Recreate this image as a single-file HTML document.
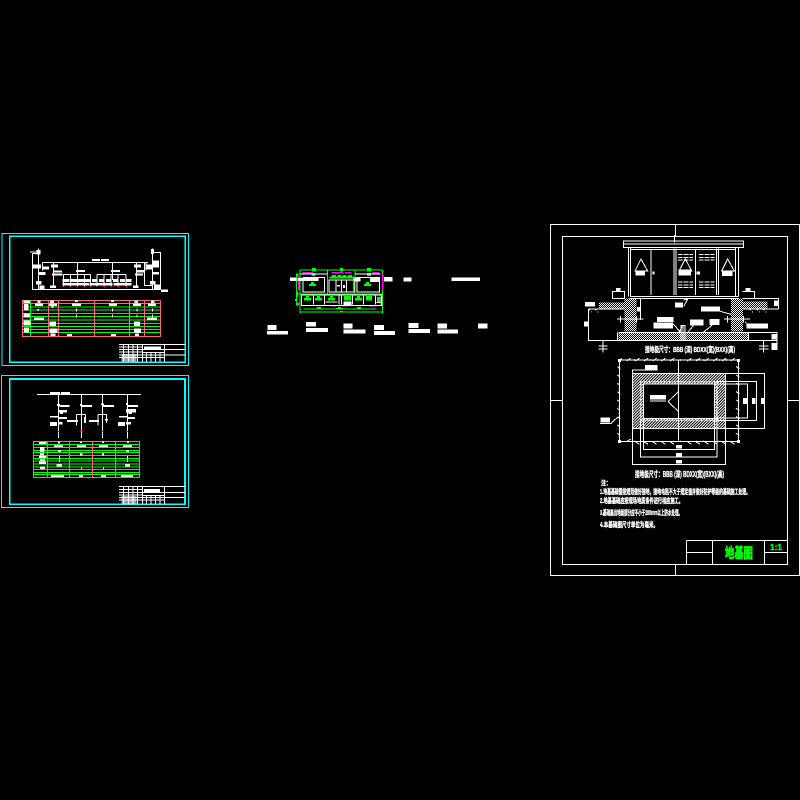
<!DOCTYPE html>
<html lang="zh">
<head>
<meta charset="utf-8">
<title>地基图</title>
<style>
html,body{margin:0;padding:0;background:#000;width:800px;height:800px;overflow:hidden}
svg{display:block;shape-rendering:crispEdges}
text{font-family:"Liberation Sans","Noto Sans CJK SC",sans-serif;font-weight:bold;fill:#fff;stroke:#fff;stroke-width:.35;shape-rendering:auto}
</style>
</head>
<body>
<svg xmlns="http://www.w3.org/2000/svg" width="800" height="800" viewBox="0 0 800 800">
<defs>
<pattern id="h" width="6" height="6" patternUnits="userSpaceOnUse" patternTransform="rotate(45)">
<rect width="3" height="6" fill="#fff"/>
</pattern>
<pattern id="d" width="6" height="6" patternUnits="userSpaceOnUse">
<rect width="3" height="3" fill="#fff"/>
<rect x="3" y="3" width="3" height="3" fill="#fff"/>
</pattern>
</defs>
<rect width="800" height="800" fill="#000"/>

<!-- Sheet 1 -->
<g transform="translate(0,230) scale(.33333)" fill="none" stroke="#fff" stroke-width="3">
<rect x="6" y="11" width="560" height="395" stroke="#00ffff" stroke-width="3"/>
<path d="M29 19H556V397H29Z" stroke="#00ffff" stroke-width="5"/>
<path d="M97 70V178H482V68H455M97 70H118M90 66H122M115 55V178M458 55V178"/>
<path d="M127 97H444M127 97V122M438 97V122M433 97V166H458M232 97V150M337 97V150M160 97V170M410 97V170"/>
<path d="M190 133H272M291 133H378M190 133V170M211 133V170M232 133V170M253 133V170M272 133V170M291 133V170M312 133V170M333 133V170M354 133V170M378 133V170"/>
<g fill="#fff" stroke="none">
<rect x="276" y="87" width="24" height="6"/><rect x="303" y="87" width="24" height="6"/>
<rect x="110" y="60" width="12" height="14"/><rect x="453" y="57" width="9" height="15"/>
<rect x="99" y="104" width="24" height="11"/><rect x="127" y="110" width="20" height="8"/>
<rect x="153" y="103" width="21" height="9"/><rect x="160" y="121" width="26" height="6"/>
<rect x="156" y="130" width="32" height="7"/><rect x="115" y="126" width="21" height="9"/>
<rect x="108" y="153" width="16" height="11"/><rect x="118" y="166" width="16" height="12"/>
<rect x="150" y="166" width="18" height="8"/><rect x="228" y="120" width="27" height="6"/>
<rect x="333" y="120" width="27" height="6"/><rect x="402" y="103" width="21" height="10"/>
<rect x="410" y="120" width="24" height="7"/><rect x="405" y="130" width="24" height="7"/>
<rect x="399" y="166" width="17" height="8"/><rect x="438" y="104" width="18" height="15"/>
<rect x="458" y="92" width="19" height="20"/><rect x="456" y="126" width="21" height="8"/>
<rect x="450" y="153" width="16" height="11"/><rect x="462" y="164" width="21" height="14"/>
<rect x="483" y="178" width="21" height="8"/>
<rect x="187" y="147" width="21" height="9"/><rect x="212" y="147" width="20" height="9"/>
<rect x="234" y="147" width="18" height="9"/><rect x="255" y="147" width="17" height="9"/>
<rect x="276" y="147" width="17" height="9"/><rect x="297" y="147" width="15" height="9"/>
<rect x="318" y="147" width="15" height="9"/><rect x="339" y="147" width="15" height="9"/>
<rect x="360" y="147" width="15" height="9"/><rect x="378" y="147" width="17" height="9"/>
<rect x="187" y="159" width="81" height="7"/><rect x="271" y="159" width="66" height="7"/>
<rect x="340" y="159" width="54" height="7"/>
</g>
<path d="M187 170h4M208 170h5M229 170h5M250 170h5M271 170h4M312 170h4M333 170h4M354 170h4M376 170h5" stroke="#ff0000" stroke-width="5"/>
<path d="M67 212H482M67 221H482M67 231H482M67 240H482M67 250H482M67 260H482M67 270H482M67 280H482M67 289H482M67 298H482M67 308H482M67 319H482" stroke="#00ff00"/>
<path d="M67 211H482V320H67Z" stroke="#ff6680"/>
<path d="M91 211V320" stroke="#00ff00"/>
<path d="M145 211V320M175 211V320M283 211V320M388 211V320M433 211V320" stroke="#ff6680"/>
<g fill="#fff" stroke="none">
<rect x="70" y="212" width="20" height="7"/><rect x="72" y="222" width="14" height="20"/>
<rect x="70" y="250" width="20" height="13"/><rect x="70" y="272" width="22" height="14"/>
<rect x="72" y="292" width="15" height="16"/><rect x="112" y="211" width="10" height="8"/>
<rect x="105" y="221" width="24" height="7"/><rect x="113" y="237" width="4" height="6"/>
<rect x="102" y="263" width="30" height="7"/><rect x="150" y="211" width="12" height="8"/>
<rect x="147" y="221" width="24" height="7"/><rect x="155" y="228" width="6" height="6"/>
<rect x="148" y="274" width="20" height="14"/><rect x="148" y="296" width="24" height="13"/>
<rect x="152" y="310" width="14" height="8"/><rect x="225" y="210" width="9" height="6"/>
<rect x="216" y="221" width="27" height="7"/><rect x="228" y="236" width="3" height="8"/>
<rect x="228" y="254" width="3" height="8"/><rect x="201" y="312" width="15" height="6"/>
<rect x="333" y="210" width="9" height="6"/><rect x="327" y="221" width="24" height="7"/>
<rect x="336" y="236" width="3" height="8"/><rect x="336" y="254" width="3" height="8"/>
<rect x="333" y="312" width="15" height="6"/><rect x="404" y="211" width="10" height="8"/>
<rect x="399" y="221" width="24" height="7"/><rect x="410" y="236" width="3" height="8"/>
<rect x="410" y="254" width="3" height="8"/><rect x="402" y="274" width="18" height="14"/>
<rect x="402" y="296" width="21" height="13"/><rect x="405" y="310" width="12" height="8"/>
<rect x="453" y="211" width="10" height="8"/><rect x="444" y="221" width="24" height="7"/>
<rect x="456" y="236" width="3" height="8"/><rect x="456" y="254" width="3" height="8"/>
<rect x="441" y="263" width="30" height="7"/>
</g>
<path d="M357 343H557M357 358H557M357 375H557M427 343V395M493 343V395M357 351H427M357 366H427M357 382H427M371 343V395M385 343V395M399 343V395M413 343V395M440 368V395M453 368V395M466 368V395M480 368V395M427 368H493M427 382H493"/>
<rect x="432" y="349" width="51" height="11" fill="#fff" stroke="none"/>
<rect x="365" y="372" width="45" height="23" fill="#fff" fill-opacity=".65" stroke="none"/>
</g>

<!-- Sheet 2 -->
<g transform="translate(0,370) scale(.33333)" fill="none" stroke="#fff" stroke-width="3">
<rect x="4" y="16" width="561" height="396" stroke="#00ffff" stroke-width="3"/>
<path d="M29 27H555V403H29Z" stroke="#00ffff" stroke-width="5"/>
<path d="M111 73H423M175 73V204M244 73V204M307 73V204M382 73V206"/>
<path d="M229 133H257M229 133V167M257 133V159M294 133H320M294 133V167M320 133V159"/>
<g fill="#fff" stroke="none">
<rect x="150" y="66" width="30" height="7"/><rect x="183" y="66" width="27" height="7"/>
<rect x="171" y="102" width="9" height="6"/><rect x="178" y="105" width="30" height="6"/>
<rect x="177" y="120" width="24" height="7"/><rect x="180" y="126" width="9" height="6"/>
<rect x="150" y="138" width="24" height="5"/><rect x="177" y="141" width="24" height="6"/>
<rect x="150" y="156" width="21" height="12"/><rect x="175" y="156" width="13" height="8"/>
<rect x="240" y="102" width="6" height="6"/><rect x="246" y="105" width="30" height="6"/>
<rect x="201" y="150" width="33" height="6"/><rect x="252" y="141" width="6" height="18"/>
<rect x="303" y="100" width="9" height="5"/><rect x="309" y="105" width="33" height="6"/>
<rect x="267" y="150" width="30" height="6"/><rect x="315" y="147" width="9" height="5"/>
<rect x="378" y="99" width="6" height="6"/><rect x="384" y="105" width="30" height="6"/>
<rect x="378" y="117" width="30" height="10"/><rect x="385" y="126" width="11" height="6"/>
<rect x="357" y="138" width="24" height="5"/><rect x="384" y="141" width="21" height="6"/>
<rect x="354" y="156" width="21" height="12"/><rect x="378" y="156" width="15" height="7"/>
</g>
<path d="M172 184h7M240 181h7M305 184h5M378 184h6" stroke="#ff0000" stroke-width="3"/>
<path d="M100 215H419M100 224H419M100 233H419M100 241H419M100 248H419M100 256H419M100 265H419M100 273H419M100 282H419M100 291H419M100 299H419M100 307H419M100 314H419M100 322H419" stroke="#00ff00"/>
<path d="M100 214H419V323H100ZM142 214V323M208 214V323M277 214V323M346 214V323" stroke="#ff6680"/>
<g fill="#fff" stroke="none">
<rect x="117" y="216" width="22" height="6"/><rect x="120" y="231" width="14" height="15"/>
<rect x="120" y="249" width="12" height="7"/><rect x="117" y="258" width="22" height="6"/>
<rect x="120" y="267" width="15" height="6"/><rect x="117" y="275" width="21" height="7"/>
<rect x="120" y="290" width="15" height="7"/><rect x="174" y="214" width="6" height="7"/>
<rect x="162" y="225" width="27" height="6"/><rect x="174" y="240" width="9" height="6"/>
<rect x="177" y="258" width="3" height="18"/><rect x="170" y="282" width="16" height="8"/>
<rect x="153" y="315" width="39" height="6"/><rect x="240" y="214" width="6" height="5"/>
<rect x="231" y="225" width="27" height="6"/><rect x="240" y="249" width="8" height="7"/>
<rect x="243" y="291" width="3" height="6"/><rect x="237" y="315" width="12" height="6"/>
<rect x="306" y="214" width="6" height="5"/><rect x="297" y="225" width="27" height="6"/>
<rect x="306" y="249" width="6" height="7"/><rect x="309" y="291" width="3" height="6"/>
<rect x="303" y="315" width="15" height="6"/><rect x="381" y="214" width="6" height="5"/>
<rect x="369" y="225" width="27" height="6"/><rect x="378" y="240" width="9" height="6"/>
<rect x="381" y="258" width="3" height="18"/><rect x="375" y="282" width="15" height="8"/>
<rect x="363" y="315" width="36" height="6"/>
</g>
<path d="M357 349H557M357 367H557M357 382H557M427 349V403M493 349V403M357 358H427M357 375H427M357 390H427M371 349V403M385 349V403M399 349V403M413 349V403M440 376V403M453 376V403M466 376V403M480 376V403M427 376H493M427 390H493"/>
<rect x="432" y="357" width="48" height="11" fill="#fff" stroke="none"/>
<rect x="365" y="378" width="45" height="24" fill="#fff" fill-opacity=".6" stroke="none"/>
</g>

<!-- Centre plan -->
<g transform="translate(260,260) scale(.33333)" fill="none" stroke="#fff" stroke-width="3">
<path d="M120 30H368M120 30V160M368 30V160M118 156H368M202 28V100M285 28V100" stroke="#00ff00"/>
<path d="M112 102H368M110 40V136M130 147H350" stroke="#00ff00"/>
<g fill="#00ff00" stroke="none">
<rect x="156" y="24" width="12" height="10"/><rect x="240" y="24" width="9" height="10"/>
<rect x="321" y="24" width="12" height="10"/><rect x="155" y="39" width="11" height="9"/>
<rect x="321" y="39" width="12" height="9"/><rect x="108" y="40" width="7" height="10"/>
<rect x="108" y="96" width="6" height="15"/><rect x="105" y="117" width="7" height="6"/>
<rect x="108" y="129" width="9" height="8"/><rect x="208" y="50" width="74" height="6"/>
<rect x="216" y="45" width="12" height="8"/><rect x="232" y="45" width="12" height="8"/>
<rect x="248" y="45" width="12" height="8"/><rect x="264" y="45" width="12" height="8"/>
<rect x="147" y="72" width="21" height="6"/><rect x="153" y="66" width="9" height="7"/>
<rect x="312" y="72" width="21" height="6"/><rect x="318" y="66" width="9" height="7"/>
<rect x="132" y="114" width="21" height="7"/><rect x="138" y="108" width="9" height="7"/>
<rect x="165" y="114" width="21" height="7"/><rect x="171" y="108" width="9" height="7"/>
<rect x="204" y="114" width="21" height="7"/><rect x="210" y="108" width="9" height="7"/>
<rect x="252" y="108" width="21" height="13"/><rect x="285" y="114" width="21" height="7"/>
<rect x="291" y="108" width="9" height="7"/><rect x="318" y="108" width="18" height="13"/>
<rect x="351" y="111" width="10" height="18"/><rect x="171" y="141" width="12" height="6"/>
<rect x="228" y="144" width="21" height="5"/><rect x="234" y="141" width="9" height="5"/>
<rect x="291" y="141" width="12" height="6"/><rect x="240" y="153" width="9" height="5"/>
</g>
<path d="M128 38H160M215 38H250M255 38H275M338 38H358M116 50V90M368 42V90M363 104V136M118 125V137M213 138H228M244 138H264M327 138H350" stroke="#ff00ff" stroke-width="4"/>
<rect x="129" y="52" width="65" height="44"/><rect x="207" y="60" width="75" height="36"/><rect x="291" y="52" width="68" height="44"/>
<path d="M228 60V96M244 60V96M260 60V96"/>
<path d="M124 105H364V136H124ZM160 105V134M193 105V134M237 105V134M244 105V134M277 105V134M310 105V134M346 105V134"/>
<path d="M118 42H202M285 42H362M350 128H364"/>
<g fill="#fff" stroke="none">
<rect x="90" y="52" width="20" height="11"/><rect x="113" y="54" width="63" height="9"/>
<rect x="280" y="52" width="22" height="12"/><rect x="330" y="52" width="28" height="14"/>
<rect x="372" y="51" width="26" height="14"/><rect x="430" y="52" width="25" height="13"/>
<rect x="574" y="52" width="86" height="11"/><rect x="231" y="75" width="9" height="5"/>
<rect x="249" y="75" width="6" height="9"/><rect x="197" y="124" width="35" height="4"/>
<rect x="250" y="124" width="25" height="11"/>
<rect x="22" y="195" width="28" height="15"/><rect x="21" y="213" width="63" height="11"/>
<rect x="138" y="186" width="30" height="14"/><rect x="138" y="204" width="66" height="12"/>
<rect x="250" y="191" width="28" height="14"/><rect x="250" y="208" width="67" height="13"/>
<rect x="342" y="195" width="30" height="15"/><rect x="342" y="213" width="63" height="12"/>
<rect x="445" y="189" width="30" height="15"/><rect x="445" y="207" width="65" height="12"/>
<rect x="532" y="191" width="29" height="15"/><rect x="532" y="208" width="62" height="13"/>
<rect x="654" y="190" width="29" height="15"/>
</g>
</g>

<!-- Right sheet -->
<g fill="none" stroke="#fff">
<path d="M550.500 224.500H799.500V575.500H550.500ZM562.500 236.500H787.500V564.500H562.500ZM675.500 224V236M675.500 564V576M550 400.500H562M788 400.500H800"/>
<path d="M686.500 540.500H787.500V564M686.500 540.500V564M712.500 540.500V564M764.500 540.500V564M686.500 552.500H712M764.500 552.500H787"/>
</g>

<g transform="translate(575,235) scale(.33333)" fill="none" stroke="#fff" stroke-width="3">
<path d="M145 18H506V38H145ZM145 27H506M298 0V22"/>
<path d="M160 38V184M167 38V184M482 38V184M490 38V184M165 43H482M165 184H490M163 190H492"/>
<path d="M228 45V180M297 40V180M303 40V180M361 45V180M424 40V180M431 40V180"/>
<path d="M309 58H354M309 67H354M309 75H354M372 58H418M372 67H418M372 75H418M309 141H354M309 150H354M309 158H354M372 141H418M372 150H418M372 158H418" stroke-dasharray="14 3"/>
<path d="M198 72L180 108H218ZM331 72L312 108H350ZM458 72L440 108H478Z"/>
<g fill="url(#d)" stroke="none">
<rect x="72" y="202" width="76" height="20"/><rect x="148" y="190" width="36" height="100"/>
<rect x="468" y="190" width="36" height="100"/><rect x="504" y="200" width="74" height="22"/>
<rect x="130" y="294" width="390" height="22"/>
</g>
<g fill="#fff" stroke="none">
<rect x="182" y="106" width="28" height="16"/><rect x="310" y="104" width="38" height="18"/>
<rect x="441" y="106" width="31" height="17"/>
<rect x="232" y="110" width="7" height="8"/><rect x="364" y="110" width="11" height="8"/>
<rect x="123" y="159" width="14" height="12"/><rect x="512" y="159" width="15" height="12"/>
<rect x="30" y="201" width="30" height="14"/><rect x="300" y="202" width="24" height="15"/>
<rect x="378" y="214" width="57" height="16"/><rect x="246" y="246" width="50" height="15"/>
<rect x="236" y="262" width="58" height="18"/><rect x="345" y="254" width="40" height="18"/>
<rect x="403" y="252" width="30" height="18"/><rect x="515" y="265" width="64" height="15"/>
<rect x="186" y="216" width="10" height="14"/><rect x="27" y="259" width="12" height="16"/>
<rect x="597" y="197" width="12" height="16"/><rect x="590" y="297" width="14" height="17"/>
<rect x="590" y="324" width="14" height="21"/>
</g>
<path d="M112 170H149V190H112ZM502 170H539V190H502"/>
<path d="M130 292H522M130 316H520M128 292V316M520 292V316"/>
<path d="M40 222V316H605M40 222H148M504 222H610M540 190H610V222M522 292H606V345M196 190V255"/>
<path d="M70 333H98M70 342H98M84 318V352M552 333H580M552 342H580M566 318V352"/>
<path d="M126 252H205M136 243V262M184 243V262M447 252H525M458 243V262M506 243V262M318 272H330V316H318ZM324 272V316"/>
<path d="M325 195L338 192M326 215L338 192M436 229L468 238M292 264L315 290M355 272L340 290M412 270L385 292M510 260L525 276M322 274L312 292"/>
<path d="M40 222L50 232M60 222L70 232M524 222L534 232M544 222L554 232M564 222L574 232" stroke-dasharray="6 5"/>
</g>

<!-- Foundation plan -->
<g transform="translate(600,350) scale(.33333)" fill="none" stroke="#fff" stroke-width="3">
<path d="M98 70H377V236H98ZM130 102H344V205H130Z" fill="url(#h)" fill-rule="evenodd" stroke="#fff"/>
<rect x="130" y="102" width="214" height="103" fill="#000"/>
<rect x="122" y="95" width="229" height="116" stroke-dasharray="3 2" stroke-width="5"/>
<rect x="130" y="102" width="214" height="103"/>
<path d="M58 30H415V274H58Z"/>
<path d="M58 30V274M415 30V274M58 30H415M58 274H415" stroke-width="5" stroke-dasharray="1 22"/>
<path d="M236 30V272M204 155L236 124M204 155L236 185"/>
<path d="M58 29l8-3M80 33l12-8M106 33l12-8M132 33l12-8M158 33l12-8M184 33l12-8M210 33l12-8M262 33l12-8M288 33l12-8M314 33l12-8M340 33l12-8M366 33l12-8M392 33l12-8M80 275l12-8M106 275l12 8M132 275l12 8M158 275l12 8M184 275l12 8M210 275l12 8M262 275l12 8M288 275l12 8M314 275l12 8M340 275l12 8M366 275l12 8M392 275l12 8M52 50l8 6M52 75l8 6M52 100l8 6M52 125l8 6M52 150l8 6M52 175l8 6M52 200l8 6M52 225l8 6M52 250l8 6M408 50l10 6M408 75l10 6M408 100l10 6M408 125l10 6M408 150l10 6M408 175l10 6M408 200l10 6M408 225l10 6M408 250l10 6"/>
<path d="M130 205V298H344V205M122 211V321H351V211M98 236V343H377V236"/>
<path d="M344 102H443V204H344M351 95H470V211H351M377 70H494V236H377"/>
<path d="M98 70V60H172M0 220H33L55 200"/>
<g fill="#fff" stroke="none">
<rect x="135" y="45" width="37" height="15"/><rect x="150" y="135" width="48" height="14"/>
<rect x="150" y="152" width="48" height="3"/><rect x="2" y="202" width="28" height="15"/>
<rect x="228" y="285" width="18" height="10"/><rect x="228" y="309" width="18" height="10"/>
<rect x="228" y="330" width="18" height="10"/><rect x="429" y="144" width="13" height="18"/>
<rect x="456" y="144" width="11" height="18"/><rect x="483" y="144" width="10" height="18"/>
<rect x="54" y="27" width="9" height="9"/><rect x="411" y="27" width="9" height="9"/>
<rect x="54" y="270" width="9" height="9"/><rect x="411" y="270" width="9" height="9"/>
</g>
</g>

<!-- Captions and notes -->
<text x="645" y="352" font-size="7.500" stroke-width=".7" textLength="90" lengthAdjust="spacingAndGlyphs">接地极尺寸：BBB (深) BDXX(宽)(BXX)(高)</text>
<text x="635" y="477" font-size="8" stroke-width=".7" textLength="89" lengthAdjust="spacingAndGlyphs">接地极尺寸：BBB (深) BDXX(宽)(BXX)(高)</text>
<text x="601" y="485" font-size="6.500" stroke-width=".5" textLength="10" lengthAdjust="spacingAndGlyphs">注：</text>
<text x="600" y="494" font-size="7" stroke-width=".6" textLength="150" lengthAdjust="spacingAndGlyphs">1.地基基础需按规范做好接地，接地电阻不大于规定值并做好防护等级的基础施工处理。</text>
<text x="600" y="503" font-size="7" stroke-width=".6" textLength="83" lengthAdjust="spacingAndGlyphs">2.地基基础应按现场地质条件进行相应施工。</text>
<text x="600" y="515" font-size="7" stroke-width=".6" textLength="82" lengthAdjust="spacingAndGlyphs">3.基础高出地面部分应不小于200mm以上防水处理。</text>
<text x="600" y="527" font-size="7" stroke-width=".6" textLength="58" lengthAdjust="spacingAndGlyphs">4.本基础图尺寸单位为毫米。</text>

<text x="725" y="558" font-size="14" textLength="28" lengthAdjust="spacingAndGlyphs" style="fill:#00ff00;stroke:#00ff00;stroke-width:.7">地基图</text>
<text x="770" y="550" font-size="8.500" textLength="12" lengthAdjust="spacingAndGlyphs" style="fill:#00ff00;stroke:#00ff00;stroke-width:.4">1:1</text>
</svg>
</body>
</html>
